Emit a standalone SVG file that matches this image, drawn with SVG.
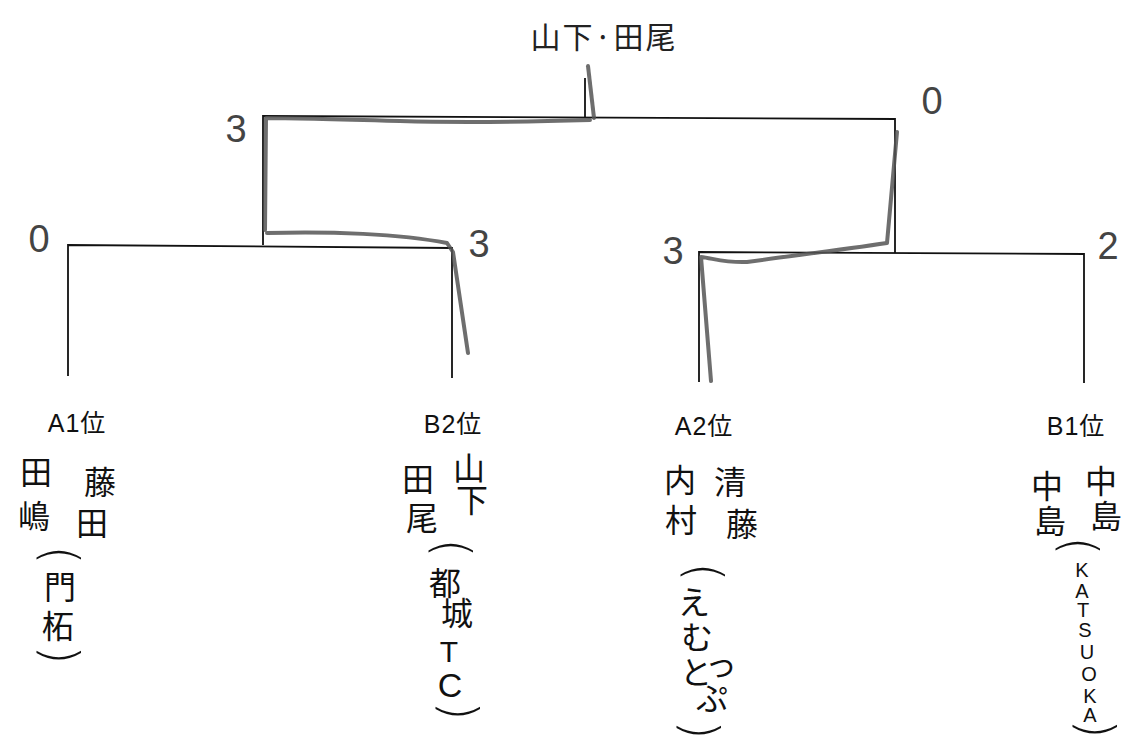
<svg xmlns="http://www.w3.org/2000/svg" width="1130" height="745" viewBox="0 0 1130 745">
<style>
.bg{fill:#fff}
.ln{fill:none;stroke:#111;stroke-width:1.8;stroke-linejoin:miter}
.pen{fill:none;stroke:#555;stroke-opacity:.85;stroke-width:4;stroke-linecap:round;stroke-linejoin:round}
.lbl{font-family:"Liberation Sans","Noto Sans CJK JP",sans-serif;font-size:25px;fill:#111;text-anchor:middle;letter-spacing:1px}
.nm{font-family:"Noto Sans CJK JP",sans-serif;font-size:32px;fill:#111;text-anchor:middle}
.par{font-family:"DejaVu Sans",sans-serif;font-weight:200;font-size:50px;fill:#111;text-anchor:middle;dominant-baseline:central}
.lat{font-family:"Liberation Sans","Noto Sans CJK JP",sans-serif;fill:#111;text-anchor:middle}
.sc{font-family:"Liberation Sans",sans-serif;font-size:38px;fill:#444;text-anchor:middle}
.ttl{font-family:"Noto Sans CJK JP",sans-serif;font-size:30px;fill:#222;text-anchor:middle}
</style>
<rect class="bg" x="0" y="0" width="1130" height="745"/>

<g id="connectors">
  <line class="ln" x1="585" y1="78" x2="585" y2="117"/>
  <polyline class="ln" points="263,245 263,116 895,119 895,253"/>
  <polyline class="ln" points="68,376 68,245 452,248 452,378"/>
  <polyline class="ln" points="699,382 699,252 1084,254 1084,383"/>
  <path class="pen" d="M588,66 L594,118"/>
  <path class="pen" d="M590,120 C520,122 470,123 400,121 C330,119 290,118 266,118 L265,230"/>
  <path class="pen" d="M267,233 C330,231 400,234 447,243 L453,252 L468,353"/>
  <path class="pen" d="M897,132 L887,243 C840,250 790,256 747,262 C725,263 712,258 701,257 L711,381"/>
</g>

<g id="title">
  <text class="ttl" x="604" y="48" letter-spacing="2">山下·田尾</text>
</g>

<g id="scores">
  <text class="sc" x="236" y="142">3</text>
  <text class="sc" x="932" y="114" font-size="34">0</text>
  <text class="sc" x="39" y="252">0</text>
  <text class="sc" x="479" y="257" font-size="32">3</text>
  <text class="sc" x="673" y="264" font-size="34">3</text>
  <text class="sc" x="1108" y="259" font-size="34">2</text>
</g>

<g id="team-a1">
  <text class="lbl" x="77" y="432">A1位</text>
  <text class="nm" x="36" y="484">田</text>
  <text class="nm" x="34" y="528" font-size="36">嶋</text>
  <text class="nm" x="100" y="494" font-size="38">藤</text>
  <text class="nm" x="92" y="535">田</text>
  <text class="par" transform="translate(60,555) rotate(90)">(</text>
  <text class="nm" x="60" y="599">門</text>
  <text class="nm" x="58" y="638">柘</text>
  <text class="par" transform="translate(60,655) rotate(90)">)</text>
</g>

<g id="team-b2">
  <text class="lbl" x="453" y="433">B2位</text>
  <text class="nm" x="418" y="491">田</text>
  <text class="nm" x="422" y="530">尾</text>
  <text class="nm" x="469" y="480" font-size="23">山</text>
  <text class="nm" x="472" y="512" font-size="23">下</text>
  <text class="par" transform="translate(452,548) rotate(90)">(</text>
  <text class="nm" x="445" y="595" font-size="33">都</text>
  <text class="nm" x="457" y="625" font-size="26">城</text>
  <text class="lat" x="449" y="662" font-size="30">T</text>
  <text class="lat" x="450" y="697" font-size="34">C</text>
  <text class="par" transform="translate(459,711) rotate(90)">)</text>
</g>

<g id="team-a2">
  <text class="lbl" x="704" y="435">A2位</text>
  <text class="nm" x="680" y="492">内</text>
  <text class="nm" x="681" y="532" font-size="34">村</text>
  <text class="nm" x="730" y="494" font-size="36">清</text>
  <text class="nm" x="742" y="536" font-size="38">藤</text>
  <text class="par" transform="translate(704,572) rotate(90)">(</text>
  <text class="nm" x="694" y="614" font-size="24">え</text>
  <text class="nm" x="697" y="649" font-size="26">む</text>
  <text class="nm" x="696" y="684" font-size="25">と</text>
  <text class="nm" x="721" y="676" font-size="13">っ</text>
  <text class="nm" x="712" y="710" font-size="25">ぷ</text>
  <text class="par" transform="translate(700,730) rotate(90)">)</text>
</g>

<g id="team-b1">
  <text class="lbl" x="1076" y="435">B1位</text>
  <text class="nm" x="1047" y="498" font-size="30">中</text>
  <text class="nm" x="1050" y="533" font-size="30">島</text>
  <text class="nm" x="1101" y="493" font-size="28">中</text>
  <text class="nm" x="1106" y="528">島</text>
  <text class="par" transform="translate(1079,546) rotate(90)">(</text>
  <text class="lat" x="1082" y="577" font-size="20">K</text>
  <text class="lat" x="1082" y="598" font-size="20">A</text>
  <text class="lat" x="1083" y="617" font-size="20">T</text>
  <text class="lat" x="1085" y="637" font-size="20">S</text>
  <text class="lat" x="1087" y="659" font-size="20">U</text>
  <text class="lat" x="1089" y="681" font-size="20">O</text>
  <text class="lat" x="1090" y="703" font-size="20">K</text>
  <text class="lat" x="1090" y="722" font-size="20">A</text>
  <text class="par" transform="translate(1096,729) rotate(90)">)</text>
</g>
</svg>
